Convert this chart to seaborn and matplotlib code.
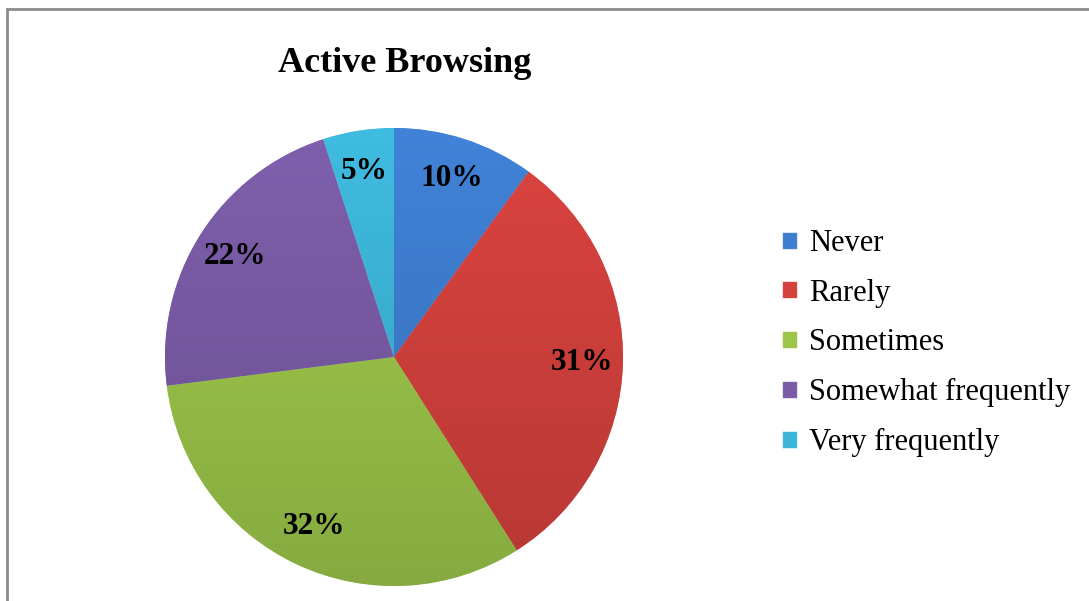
import numpy as np
import matplotlib
matplotlib.use("Agg")
import matplotlib.pyplot as plt
from matplotlib.patches import Patch, Rectangle
from matplotlib.colors import to_rgb
import seaborn as sns

# Survey responses for "Active Browsing"
categories = ["Never", "Rarely", "Sometimes", "Somewhat frequently", "Very frequently"]
shares = [10, 31, 32, 22, 5]
colors = ["#3E7ED0", "#D4413D", "#9CC64A", "#7A5CA6", "#3DB5D8"]

sns.set_theme(style="white")
plt.rcParams["font.family"] = ["Liberation Serif", "DejaVu Serif"]
plt.rcParams["text.color"] = "black"

W, H = 1089, 601
fig = plt.figure(figsize=(W / 100, H / 100), dpi=100)
fig.patch.set_facecolor("white")

# Outer chart frame (runs off the right and bottom edges)
fig.patches.append(Rectangle((7 / W, -0.05), 1.1, 1 - 9 / H + 0.05,
                             transform=fig.transFigure, fill=False,
                             edgecolor="#8C8C8C", linewidth=2))

cx, cy, r = 394, 357, 229
ax = fig.add_axes([(cx - r) / W, (H - cy - r) / H, 2 * r / W, 2 * r / H])
pal = sns.color_palette(colors)

wedges, texts, autotexts = ax.pie(
    shares, colors=pal, startangle=90, counterclock=False, radius=1,
    autopct=lambda p: f"{p:.0f}%", pctdistance=0.82,
    wedgeprops=dict(linewidth=0.6, edgecolor=(1, 1, 1, 0.35)),
    textprops=dict(fontsize=22.5, fontweight="bold", color="black"))

# Vertical shading inside each slice: lighter on top, darker at the bottom
yy = np.linspace(1, -1, 256)[:, None]
for w, c in zip(wedges, pal):
    base = np.array(to_rgb(c))
    t = (yy + 1) / 2  # 1 at top, 0 at bottom
    shade = 0.86 + 0.18 * t
    img = np.clip(base[None, None, :] * shade[:, :, None], 0, 1)
    img = np.repeat(img, 2, axis=1)
    im = ax.imshow(img, extent=(-1, 1, -1, 1), zorder=w.get_zorder() + 0.1,
                   aspect="auto", interpolation="bilinear")
    im.set_clip_path(w)
for t in autotexts:
    t.set_zorder(5)

ax.set_xlim(-1.0, 1.0)
ax.set_ylim(-1.0, 1.0)
ax.set_aspect("equal")
ax.axis("off")

fig.text(405 / W, 1 - 63 / H, "Active Browsing", ha="center", va="center",
         fontsize=26, fontweight="bold", color="black")

handles = [Patch(facecolor=c, edgecolor=(1, 1, 1, 0.6), linewidth=0.8) for c in pal]
leg = fig.legend(handles, categories, loc="center left",
                 bbox_to_anchor=(782 / W, 1 - 343 / H), frameon=False,
                 fontsize=22, handlelength=0.48, handleheight=0.48,
                 handletextpad=0.4, labelspacing=0.68, borderaxespad=0,
                 borderpad=0)
for txt in leg.get_texts():
    txt.set_color("black")

fig.savefig("out.png", dpi=100, facecolor="white")
